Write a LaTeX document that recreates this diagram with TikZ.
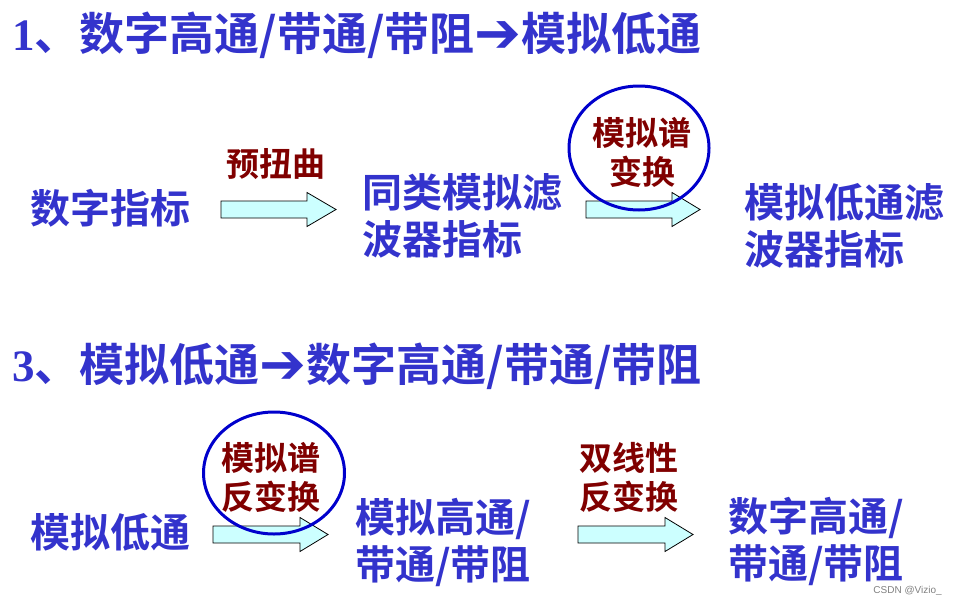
\documentclass[tikz,border=0pt]{standalone}
\usepackage{fontspec}
\usetikzlibrary{shapes.geometric}
\setmainfont{Noto Sans CJK SC}[BoldFont={* Bold}]
\newfontfamily\cjk{Noto Sans CJK SC}[BoldFont={* Bold}]
\newfontfamily\digf{Liberation Serif}
\newfontfamily\arrf{DejaVu Sans}
\newfontfamily\wmf{Liberation Sans}
\definecolor{tblue}{RGB}{51,51,204}
\definecolor{tred}{RGB}{128,0,0}
\definecolor{afill}{RGB}{204,255,255}
\definecolor{cblue}{RGB}{0,0,204}
\tikzset{
  title/.style={anchor=west, inner sep=0pt, text=tblue, font=\cjk\bfseries\fontsize{45}{52}\selectfont},
  body/.style={anchor=west, inner sep=0pt, text=tblue, align=left, font=\cjk\bfseries\fontsize{40}{47}\selectfont},
  lab/.style={inner sep=0pt, text=tred, align=center, font=\cjk\bfseries\fontsize{33}{39}\selectfont},
  ring/.style={draw=cblue, line width=3pt},
  barrow/.style={draw=black, line width=0.8pt, fill=afill},
}
\newcommand{\bigarr}{{\arrf\fontsize{56}{52}\selectfont\raisebox{-2pt}{➔}}}
\newcommand{\blockarrow}[4]{% x1, xhead, xtip, y
  \draw[barrow] (#1,#4-8.5) -- (#2,#4-8.5) -- (#2,#4-17) -- (#3,#4) -- (#2,#4+17) -- (#2,#4+8.5) -- (#1,#4+8.5) -- cycle;}
\begin{document}
\begin{tikzpicture}[x=1pt,y=-1pt]
\useasboundingbox (0,0) rectangle (957,605);
% titles
\node[title] (t1) at (12,35) {{\digf\bfseries 1}、数字高通/带通/带阻\bigarr 模拟低通};
\node[title] (t3) at (12,366) {{\digf\bfseries 3}、模拟低通\bigarr 数字高通/带通/带阻};
% row 1
\node[body] (a1) at (30,208) {数字指标};
\node[body] (a2) at (362,216) {同类模拟滤\\波器指标};
\node[body] (a3) at (744,226) {模拟低通滤\\波器指标};
\node[lab] (l1) at (276,164) {预扭曲};
\blockarrow{221}{307}{336}{209.5}
\blockarrow{586}{672}{700}{209.5}
\node[lab] (l2) at (642,152) {模拟谱\\变换};
\node[ring, ellipse, minimum width=140pt, minimum height=124pt, inner sep=0pt] (c1) at (639,148) {};
% row 3
\node[body] (b1) at (30,532) {模拟低通};
\node[body] (b2) at (355,542) {模拟高通/\\带通/带阻};
\node[body] (b3) at (728,541) {数字高通/\\带通/带阻};
\blockarrow{213}{300}{328}{534.5}
\blockarrow{578}{665}{693}{534.5}
\node[lab] (l3) at (271,477) {模拟谱\\反变换};
\node[lab] (l4) at (629,477) {双线性\\反变换};
\node[ring, ellipse, minimum width=141pt, minimum height=122pt, inner sep=0pt] (c3) at (274,473) {};
% watermark
\node[anchor=east, inner sep=0pt, text=gray, font=\wmf\fontsize{10}{12}\selectfont] (wm) at (942,591) {CSDN @Vizio\_};
\end{tikzpicture}
\end{document}
